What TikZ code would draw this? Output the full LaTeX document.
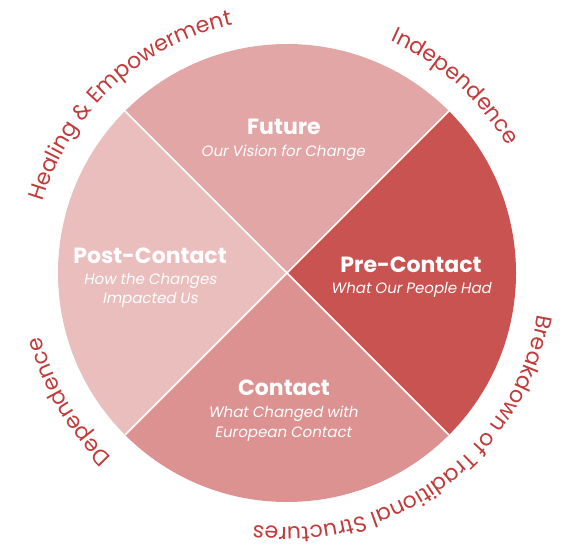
\documentclass[tikz,border=0pt]{standalone}
\usepackage{fontspec}
\setmainfont{Poppins}
\newfontfamily\subf{Poppins}[FakeSlant=0.18]
\usetikzlibrary{decorations.text,calc}
\definecolor{futc}{HTML}{E3A6A6}
\definecolor{prec}{HTML}{C95350}
\definecolor{conc}{HTML}{DD9292}
\definecolor{posc}{HTML}{EBBEBE}
\definecolor{outred}{HTML}{C23B3B}
\newcommand\outf{\color{outred}\fontsize{22}{22}\selectfont}
\tikzset{
  sector/.style={draw=none},
  sepline/.style={draw=white, line width=1.5pt},
  ttl/.style={text=white, font=\bfseries\fontsize{22}{26}\selectfont, anchor=base, inner sep=0pt},
  sbt/.style={text=white, font=\subf\fontsize{15}{19}\selectfont, anchor=base, inner sep=0pt},
  outtext/.style={decorate, decoration={text along path, text align=center, text={#1}}}
}
\begin{document}
\begin{tikzpicture}[x=1pt,y=1pt]
\useasboundingbox (0,0) rectangle (569,-548);
\coordinate (c) at (287,-273);
\def\R{229}
\fill[futc] (c) -- ($(c)+(45:\R)$) arc[start angle=45, end angle=135, radius=\R] -- cycle;
\fill[posc] (c) -- ($(c)+(135:\R)$) arc[start angle=135, end angle=225, radius=\R] -- cycle;
\fill[conc] (c) -- ($(c)+(225:\R)$) arc[start angle=225, end angle=315, radius=\R] -- cycle;
\fill[prec] (c) -- ($(c)+(-45:\R)$) arc[start angle=-45, end angle=45, radius=\R] -- cycle;
\foreach \a in {45,135,225,315} \draw[sepline] (c) -- ($(c)+(\a:\R)$);

\node[ttl] (fut) at (284,-135) {Future};
\node[sbt] (futs) at (283,-157) {Our Vision for Change};
\node[ttl] (pre) at (411,-272) {Pre-Contact};
\node[sbt] (pres) at (411,-293) {What Our People Had};
\node[ttl] (post) at (150,-263) {Post-Contact};
\node[sbt] (posts1) at (150,-284) {How the Changes};
\node[sbt] (posts2) at (150,-303) {Impacted Us};
\node[ttl] (con) at (284,-395) {Contact};
\node[sbt] (cons1) at (283,-417) {What Changed with};
\node[sbt] (cons2) at (283,-437) {European Contact};

\path[outtext={|\outf|Healing {\&} Empowerment}] ($(c)+(193:254)$) arc[start angle=193, end angle=73, radius=254];
\path[outtext={|\outf|Independence}] ($(c)+(98:254)$) arc[start angle=98, end angle=-2, radius=254];
\path[outtext={|\outf|Breakdown of Traditional Structures}] ($(c)+(22:254)$) arc[start angle=22, end angle=-129, radius=254];
\path[outtext={|\outf|Dependence}] ($(c)+(260:254)$) arc[start angle=260, end angle=161, radius=254];
\end{tikzpicture}
\end{document}
